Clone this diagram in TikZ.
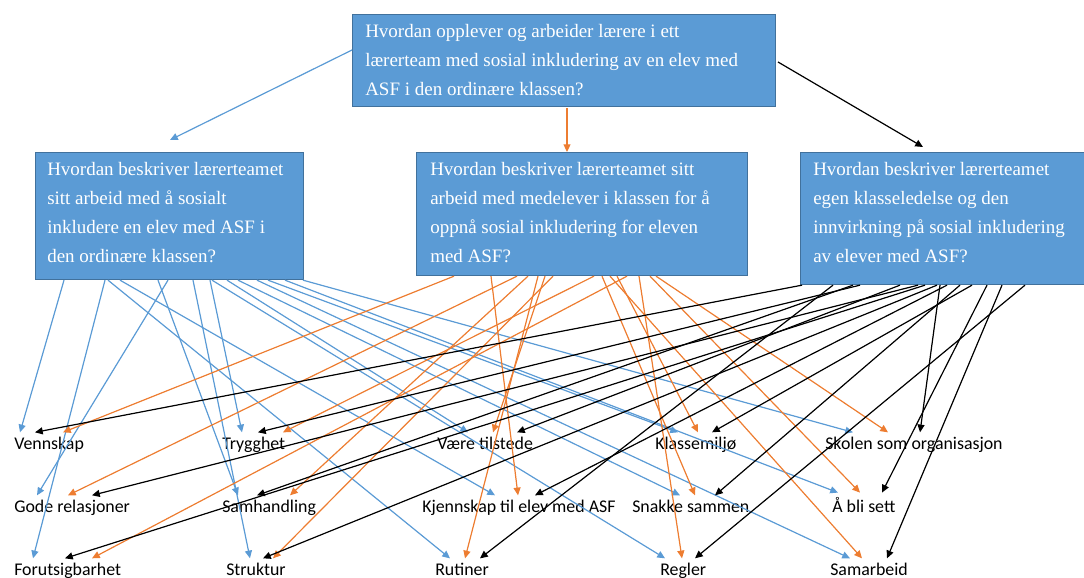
\documentclass[tikz,border=0pt]{standalone}
\usepackage{fontspec}
\setmainfont{Liberation Serif}
\newfontfamily\labfont{Carlito}
\usetikzlibrary{arrows.meta,calc}

\definecolor{qblue}{HTML}{5B9BD5}
\definecolor{qedge}{HTML}{41719C}
\definecolor{qorange}{HTML}{ED7D31}

\tikzset{
  qbox/.style={draw=qedge, line width=0.8pt, fill=qblue, anchor=north west, inner sep=0pt},
  qtext/.style={text=white, align=left, anchor=north west, inner sep=0pt,
    font=\fontsize{13.5}{20.6}\selectfont},
  tema/.style={anchor=base west, inner sep=0pt, font=\labfont\fontsize{12.7}{14}\selectfont},
  arr/.style={line width=0.85pt, -{Triangle[length=5.5pt, width=5pt]}},
  bl/.style={arr, draw=qblue, fill=qblue},
  or/.style={arr, draw=qorange, fill=qorange},
  bk/.style={arr, draw=black, fill=black}
}

\begin{document}
\begin{tikzpicture}[x=0.025cm, y=-0.025cm]
  \useasboundingbox (0,0) rectangle (1084,578);

  % questions
  \node[qbox, minimum width=10.575cm, minimum height=2.3cm] (top) at (352,14) {};
  \node[qbox, minimum width=6.7cm, minimum height=3.175cm] (lq) at (35,152) {};
  \node[qbox, minimum width=8.275cm, minimum height=3.075cm] (mq) at (416,152) {};
  \node[qbox, minimum width=7.3cm, minimum height=3.3cm] (rq) at (800,152) {};

  \node[qtext] (topt) at ($(top.north west)+(13,10)$)
    {Hvordan opplever og arbeider lærere i ett\\lærerteam med sosial inkludering av en elev med\\ASF i den ordinære klassen?};
  \node[qtext] (lqt) at ($(lq.north west)+(12,10)$)
    {Hvordan beskriver lærerteamet\\sitt arbeid med å sosialt\\inkludere en elev med ASF i\\den ordinære klassen?};
  \node[qtext] (mqt) at ($(mq.north west)+(14,10)$)
    {Hvordan beskriver lærerteamet sitt\\arbeid med medelever i klassen for å\\oppnå sosial inkludering for eleven\\med ASF?};
  \node[qtext] (rqt) at ($(rq.north west)+(13,10)$)
    {Hvordan beskriver lærerteamet\\egen klasseledelse og den\\innvirkning på sosial inkludering\\av elever med ASF?};

  \draw[bl] (top.west |- 0,50) -- (170,140);
  \draw[or] (567,108) -- (mq.north -| 567,0);
  \draw[bk] (778,62) -- (923,147);

  % themes
  \node[tema] (ven) at (14,449) {Vennskap};
  \node[tema] (try) at (222,449) {Trygghet};
  \node[tema] (vae) at (437,449) {Være tilstede};
  \node[tema] (kla) at (655,449) {Klassemiljø};
  \node[tema] (sko) at (825,449) {Skolen som organisasjon};
  \node[tema] (god) at (14,512) {Gode relasjoner};
  \node[tema] (sam) at (222,512) {Samhandling};
  \node[tema] (kje) at (422,512) {Kjennskap til elev med ASF};
  \node[tema] (sna) at (632,512) {Snakke sammen};
  \node[tema] (abs) at (832,512) {Å bli sett};
  \node[tema] (for) at (14,575) {Forutsigbarhet};
  \node[tema] (str) at (226,575) {Struktur};
  \node[tema] (rut) at (435,575) {Rutiner};
  \node[tema] (reg) at (660,575) {Regler};
  \node[tema] (smb) at (830,575) {Samarbeid};

  % connectors
  \foreach \sx/\tg/\tx in {29/ven/6, 133/god/23, 70/for/19, 123/sam/16, 158/str/24,
      175/try/20, 73/rut/15, 85/kje/73, 177/reg/5, 192/vae/31, 203/sna/48,
      222/smb/20, 233/kla/23, 250/abs/6, 268/sko/28}
    \draw[bl] ($(lq.south west)+(\sx,0)$) -- ($(\tg.north west)+(\tx,-4)$);
  \foreach \sx/\tg/\tx in {38/ven/49, 75/kje/96, 101/god/54, 112/sam/68, 122/rut/30,
      129/vae/56, 137/str/47, 178/try/61, 211/for/78, 186/sna/63, 194/smb/32,
      201/kla/43, 223/reg/22, 234/abs/28, 240/sko/63}
    \draw[or] ($(mq.south west)+(\sx,0)$) -- ($(\tg.north west)+(\tx,-4)$);
  \foreach \sx/\tg/\tx in {2/ven/21, 33/rut/45, 53/sam/35, 60/try/36, 100/vae/80,
      118/god/78, 125/for/51, 137/str/37, 147/kje/113, 140/sko/95, 160/sna/83,
      172/kla/57, 187/abs/50, 202/smb/57, 225/reg/35}
    \draw[bk] ($(rq.south west)+(\sx,0)$) -- ($(\tg.north west)+(\tx,-4)$);
\end{tikzpicture}
\end{document}
